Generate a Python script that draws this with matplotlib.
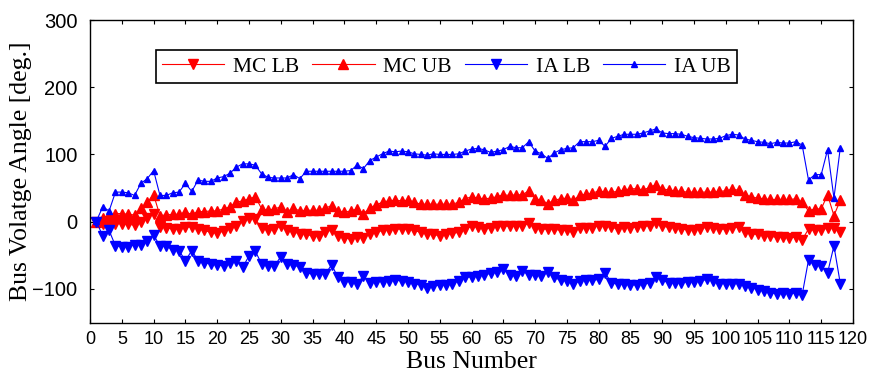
"""Bus voltage angle bounds, MC vs IA."""
import matplotlib
matplotlib.use("Agg")
import matplotlib.pyplot as plt

bus_number = list(range(1, 119))

mc_lb = [-1, -3, -5, -3, -3, -4, -5, -1, 5, 12,
         -8, -9, -11, -11, -8, -8, -11, -13, -16, -17,
         -14, -9, -6, 1, 5, 4, -10, -13, -11, -6,
         -12, -15, -18, -18, -22, -21, -16, -12, -22, -24,
         -26, -23, -24, -18, -16, -13, -12, -11, -11, -11,
         -13, -16, -18, -19, -21, -19, -17, -16, -11, -7,
         -8, -11, -9, -7, -6, -7, -6, -7, -2, -9,
         -11, -11, -11, -13, -13, -16, -9, -9, -9, -6,
         -6, -8, -11, -8, -9, -8, -7, -6, -2, -7,
         -8, -9, -11, -12, -12, -11, -8, -9, -11, -11,
         -9, -8, -16, -18, -19, -21, -22, -23, -23, -24,
         -23, -27, -11, -13, -13, -9, -9, -16]

mc_ub = [0, 6, 10, 12, 12, 11, 10, 20, 29, 40,
         9, 10, 11, 11, 14, 11, 15, 15, 16, 16,
         19, 22, 29, 31, 34, 37, 19, 17, 19, 22,
         15, 20, 16, 17, 17, 17, 20, 24, 16, 14,
         16, 19, 12, 20, 25, 29, 31, 32, 31, 32,
         29, 26, 26, 26, 26, 26, 26, 29, 34, 37,
         35, 34, 35, 37, 40, 39, 40, 40, 46, 34,
         32, 27, 32, 34, 35, 32, 39, 41, 42, 46,
         44, 44, 45, 47, 49, 49, 47, 51, 55, 49,
         47, 46, 45, 44, 44, 44, 44, 44, 45, 46,
         48, 47, 40, 37, 35, 34, 33, 33, 33, 33,
         34, 29, 16, 19, 19, 40, 9, 32]

ia_lb = [0, -21, -13, -36, -37, -37, -34, -34, -28, -20,
         -36, -36, -42, -43, -58, -43, -58, -61, -63, -64,
         -66, -62, -59, -68, -51, -44, -63, -66, -66, -52,
         -63, -64, -68, -76, -78, -78, -78, -64, -83, -89,
         -89, -92, -81, -91, -89, -89, -88, -87, -88, -89,
         -92, -94, -98, -96, -94, -94, -92, -88, -83, -82,
         -81, -79, -77, -75, -71, -79, -81, -73, -79, -79,
         -81, -75, -83, -87, -88, -93, -88, -87, -87, -86,
         -76, -91, -93, -93, -94, -94, -93, -91, -83, -87,
         -91, -91, -91, -89, -89, -88, -86, -88, -92, -92,
         -92, -92, -96, -98, -101, -103, -106, -107, -106, -107,
         -106, -109, -57, -64, -66, -76, -36, -92]

ia_ub = [1, 22, 16, 44, 44, 43, 39, 57, 64, 76,
         39, 39, 43, 44, 57, 45, 62, 60, 60, 65,
         67, 72, 81, 86, 86, 84, 71, 66, 65, 65,
         65, 70, 64, 75, 75, 75, 75, 75, 75, 75,
         76, 84, 79, 91, 96, 101, 105, 104, 105, 104,
         101, 100, 99, 101, 100, 100, 100, 101, 105, 108,
         109, 107, 103, 105, 107, 112, 110, 110, 119, 105,
         101, 94, 102, 107, 109, 110, 119, 119, 119, 121,
         112, 124, 127, 130, 130, 130, 132, 135, 138, 132,
         131, 131, 130, 127, 125, 124, 123, 123, 124, 128,
         130, 129, 123, 121, 119, 118, 116, 118, 117, 117,
         119, 114, 62, 70, 70, 107, 35, 110]

x_ticks = list(range(0, 121, 5))
y_ticks = [-100, 0, 100, 200, 300]

fig = plt.figure(figsize=(8.69, 3.81), dpi=100)
ax = fig.add_axes([0.1036, 0.1535, 0.878, 0.794])

ax.plot(bus_number, mc_lb, color="red", marker="v", ms=7, lw=0.8, label="MC LB")
ax.plot(bus_number, mc_ub, color="red", marker="^", ms=7, lw=0.8, label="MC UB")
ax.plot(bus_number, ia_lb, color="blue", marker="v", ms=7, lw=0.8, label="IA LB")
ax.plot(bus_number, ia_ub, color="blue", marker="^", ms=4.5, lw=0.8, label="IA UB")

ax.set_xlim(0, 120)
ax.set_ylim(-150, 300)
ax.set_xticks(x_ticks)
ax.set_yticks(y_ticks)
ax.tick_params(direction="in", length=3, top=True, right=True)
ax.tick_params(axis="x", labelsize=13, pad=6)
ax.tick_params(axis="y", labelsize=14.5, pad=9)
for lab in ax.get_xticklabels() + ax.get_yticklabels():
    lab.set_fontfamily("Liberation Sans")
for side in ax.spines.values():
    side.set_linewidth(1.0)

ax.set_xlabel("Bus Number", family="Liberation Serif", fontsize=18.5, labelpad=2)
ax.set_ylabel("Bus Volatge Angle [deg.]", family="Liberation Serif", fontsize=18.5, labelpad=0)

leg = ax.legend(loc="center", bbox_to_anchor=(0.467, 0.845), ncol=4, fancybox=False,
                edgecolor="black", framealpha=1, handlelength=2.9, handletextpad=0.4,
                columnspacing=0.6, borderpad=0.3, prop={"family": "Liberation Serif", "size": 15.5})
leg.get_frame().set_linewidth(1.2)

plt.savefig("out.png", dpi=100)
plt.close()
